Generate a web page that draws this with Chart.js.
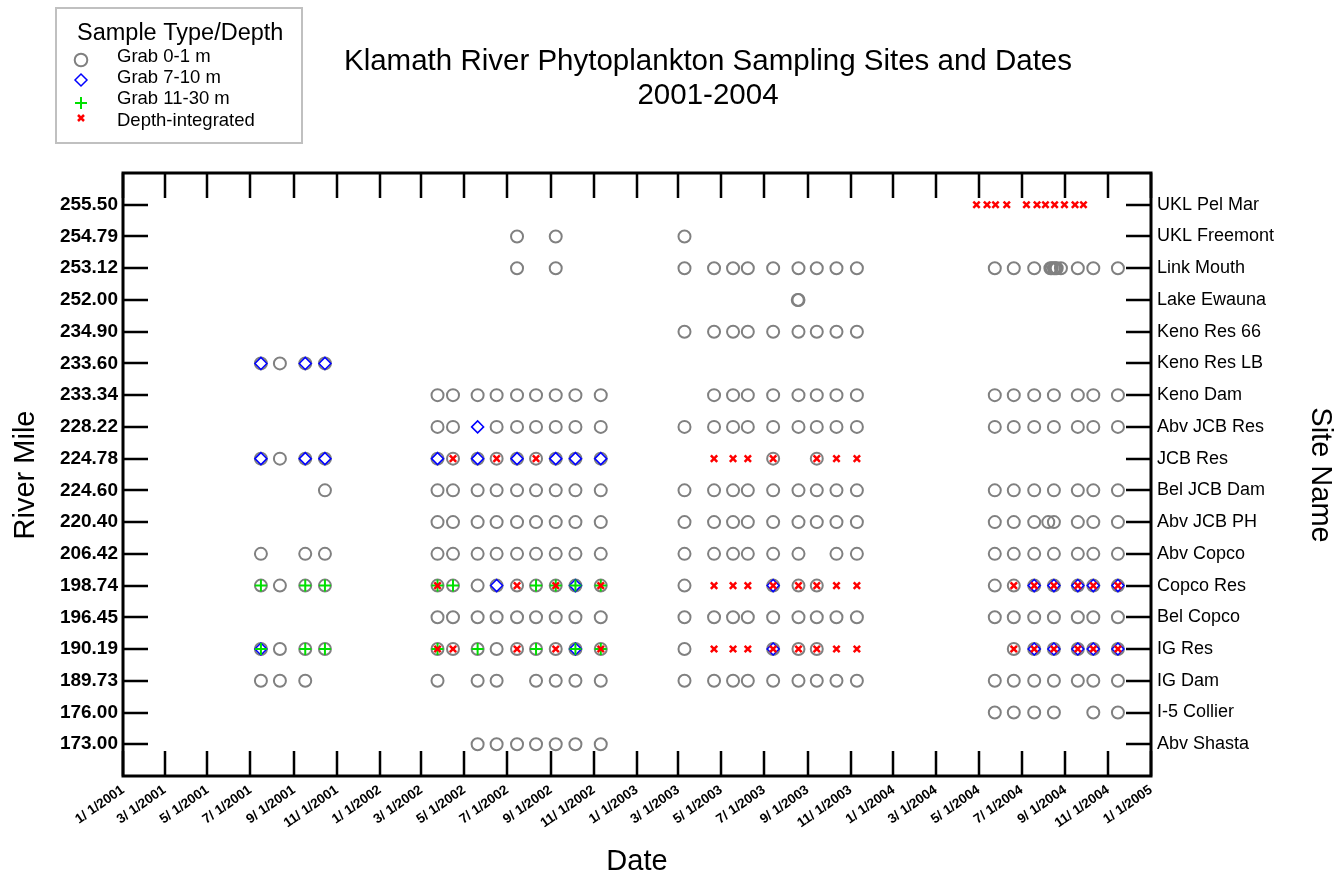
<!DOCTYPE html>
<html>
<head>
<meta charset="utf-8">
<script src="https://cdn.jsdelivr.net/npm/chart.js@4/dist/chart.umd.min.js"></script>
<style>
  html, body { margin: 0; padding: 0; background: #fff; }
  #wrap { width: 1344px; height: 877px; }
</style>
</head>
<body>
<div id="wrap"><canvas id="chart" width="1344" height="877"></canvas></div>
<script>
// Sites, top to bottom
const riverMiles = ['255.50', '254.79', '253.12', '252.00', '234.90', '233.60', '233.34', '228.22', '224.78',
    '224.60', '220.40', '206.42', '198.74', '196.45', '190.19', '189.73', '176.00', '173.00'];
const siteNames = ['UKL Pel Mar', 'UKL Freemont', 'Link Mouth', 'Lake Ewauna', 'Keno Res 66', 'Keno Res LB', 'Keno Dam',
    'Abv JCB Res', 'JCB Res', 'Bel JCB Dam', 'Abv JCB PH', 'Abv Copco', 'Copco Res', 'Bel Copco', 'IG Res', 'IG Dam',
    'I-5 Collier', 'Abv Shasta'];

// Date axis labels
const tickLabels = ['1/ 1/2001', '3/ 1/2001', '5/ 1/2001', '7/ 1/2001', '9/ 1/2001', '11/ 1/2001',
    '1/ 1/2002', '3/ 1/2002', '5/ 1/2002', '7/ 1/2002', '9/ 1/2002', '11/ 1/2002',
    '1/ 1/2003', '3/ 1/2003', '5/ 1/2003', '7/ 1/2003', '9/ 1/2003', '11/ 1/2003',
    '1/ 1/2004', '3/ 1/2004', '5/ 1/2004', '7/ 1/2004', '9/ 1/2004', '11/ 1/2004', '1/ 1/2005'];

// Grab 0-1 m (circles)
const grab0to1 = [
    ['UKL Freemont', ['2002-07-15', '2002-09-08', '2003-03-10']],
    ['Link Mouth', ['2002-07-15', '2002-09-08', '2003-03-10', '2003-04-21', '2003-05-18', '2003-06-08', '2003-07-14',
        '2003-08-19', '2003-09-14', '2003-10-12', '2003-11-10', '2004-05-24', '2004-06-20', '2004-07-19', '2004-08-11',
        '2004-08-13', '2004-08-16', '2004-08-18', '2004-08-20', '2004-08-26', '2004-09-19', '2004-10-11', '2004-11-15']],
    ['Lake Ewauna', ['2003-08-18', '2003-08-19']],
    ['Keno Res 66', ['2003-03-10', '2003-04-21', '2003-05-18', '2003-06-08', '2003-07-14', '2003-08-19', '2003-09-14',
        '2003-10-12', '2003-11-10']],
    ['Keno Res LB', ['2001-07-16', '2001-08-12', '2001-09-17', '2001-10-15']],
    ['Keno Dam', ['2002-03-24', '2002-04-15', '2002-05-20', '2002-06-16', '2002-07-15', '2002-08-11', '2002-09-08',
        '2002-10-06', '2002-11-11', '2003-04-21', '2003-05-18', '2003-06-08', '2003-07-14', '2003-08-19', '2003-09-14',
        '2003-10-12', '2003-11-10', '2004-05-24', '2004-06-20', '2004-07-19', '2004-08-16', '2004-09-19', '2004-10-11',
        '2004-11-15']],
    ['Abv JCB Res', ['2002-03-24', '2002-04-15', '2002-06-16', '2002-07-15', '2002-08-11', '2002-09-08', '2002-10-06',
        '2002-11-11', '2003-03-10', '2003-04-21', '2003-05-18', '2003-06-08', '2003-07-14', '2003-08-19', '2003-09-14',
        '2003-10-12', '2003-11-10', '2004-05-24', '2004-06-20', '2004-07-19', '2004-08-16', '2004-09-19', '2004-10-11',
        '2004-11-15']],
    ['JCB Res', ['2001-07-16', '2001-08-12', '2001-09-17', '2001-10-15', '2002-03-24', '2002-04-15', '2002-05-20',
        '2002-06-16', '2002-07-15', '2002-08-11', '2002-09-08', '2002-10-06', '2002-11-11', '2003-07-14', '2003-09-14']],
    ['Bel JCB Dam', ['2001-10-15', '2002-03-24', '2002-04-15', '2002-05-20', '2002-06-16', '2002-07-15', '2002-08-11',
        '2002-09-08', '2002-10-06', '2002-11-11', '2003-03-10', '2003-04-21', '2003-05-18', '2003-06-08', '2003-07-14',
        '2003-08-19', '2003-09-14', '2003-10-12', '2003-11-10', '2004-05-24', '2004-06-20', '2004-07-19', '2004-08-16',
        '2004-09-19', '2004-10-11', '2004-11-15']],
    ['Abv JCB PH', ['2002-03-24', '2002-04-15', '2002-05-20', '2002-06-16', '2002-07-15', '2002-08-11', '2002-09-08',
        '2002-10-06', '2002-11-11', '2003-03-10', '2003-04-21', '2003-05-18', '2003-06-08', '2003-07-14', '2003-08-19',
        '2003-09-14', '2003-10-12', '2003-11-10', '2004-05-24', '2004-06-20', '2004-07-19', '2004-08-08', '2004-08-16',
        '2004-09-19', '2004-10-11', '2004-11-15']],
    ['Abv Copco', ['2001-07-16', '2001-09-17', '2001-10-15', '2002-03-24', '2002-04-15', '2002-05-20', '2002-06-16',
        '2002-07-15', '2002-08-11', '2002-09-08', '2002-10-06', '2002-11-11', '2003-03-10', '2003-04-21', '2003-05-18',
        '2003-06-08', '2003-07-14', '2003-08-19', '2003-10-12', '2003-11-10', '2004-05-24', '2004-06-20', '2004-07-19',
        '2004-08-16', '2004-09-19', '2004-10-11', '2004-11-15']],
    ['Copco Res', ['2001-07-16', '2001-08-12', '2001-09-17', '2001-10-15', '2002-03-24', '2002-04-15', '2002-05-20',
        '2002-06-16', '2002-07-15', '2002-08-11', '2002-09-08', '2002-10-06', '2002-11-11', '2003-03-10', '2003-07-14',
        '2003-08-19', '2003-09-14', '2004-05-24', '2004-06-20', '2004-07-19', '2004-08-16', '2004-09-19', '2004-10-11',
        '2004-11-15']],
    ['Bel Copco', ['2002-03-24', '2002-04-15', '2002-05-20', '2002-06-16', '2002-07-15', '2002-08-11', '2002-09-08',
        '2002-10-06', '2002-11-11', '2003-03-10', '2003-04-21', '2003-05-18', '2003-06-08', '2003-07-14', '2003-08-19',
        '2003-09-14', '2003-10-12', '2003-11-10', '2004-05-24', '2004-06-20', '2004-07-19', '2004-08-16', '2004-09-19',
        '2004-10-11', '2004-11-15']],
    ['IG Res', ['2001-07-16', '2001-08-12', '2001-09-17', '2001-10-15', '2002-03-24', '2002-04-15', '2002-05-20',
        '2002-06-16', '2002-07-15', '2002-08-11', '2002-09-08', '2002-10-06', '2002-11-11', '2003-03-10', '2003-07-14',
        '2003-08-19', '2003-09-14', '2004-06-20', '2004-07-19', '2004-08-16', '2004-09-19', '2004-10-11', '2004-11-15']],
    ['IG Dam', ['2001-07-16', '2001-08-12', '2001-09-17', '2002-03-24', '2002-05-20', '2002-06-16', '2002-08-11',
        '2002-09-08', '2002-10-06', '2002-11-11', '2003-03-10', '2003-04-21', '2003-05-18', '2003-06-08', '2003-07-14',
        '2003-08-19', '2003-09-14', '2003-10-12', '2003-11-10', '2004-05-24', '2004-06-20', '2004-07-19', '2004-08-16',
        '2004-09-19', '2004-10-11', '2004-11-15']],
    ['I-5 Collier', ['2004-05-24', '2004-06-20', '2004-07-19', '2004-08-16', '2004-10-11', '2004-11-15']],
    ['Abv Shasta', ['2002-05-20', '2002-06-16', '2002-07-15', '2002-08-11', '2002-09-08', '2002-10-06', '2002-11-11']]
];

// Grab 7-10 m (diamonds)
const grab7to10 = [
    ['Keno Res LB', ['2001-07-16', '2001-09-17', '2001-10-15']],
    ['Abv JCB Res', ['2002-05-20']],
    ['JCB Res', ['2001-07-16', '2001-09-17', '2001-10-15', '2002-03-24', '2002-05-20', '2002-07-15', '2002-09-08',
        '2002-10-06', '2002-11-11']],
    ['Copco Res', ['2002-06-16', '2002-10-06', '2003-07-14', '2004-07-19', '2004-08-16', '2004-09-19', '2004-10-11',
        '2004-11-15']],
    ['IG Res', ['2001-07-16', '2002-10-06', '2003-07-14', '2004-07-19', '2004-08-16', '2004-09-19', '2004-10-11',
        '2004-11-15']]
];

// Grab 11-30 m (plus)
const grab11to30 = [
    ['Copco Res', ['2001-07-16', '2001-09-17', '2001-10-15', '2002-03-24', '2002-04-15', '2002-08-11', '2002-09-08',
        '2002-10-06', '2002-11-11']],
    ['IG Res', ['2001-07-16', '2001-09-17', '2001-10-15', '2002-03-24', '2002-05-20', '2002-08-11', '2002-10-06',
        '2002-11-11']]
];

// Depth-integrated (x)
const depthIntegrated = [
    ['UKL Pel Mar', ['2004-04-28', '2004-05-13', '2004-05-25', '2004-06-10', '2004-07-08', '2004-07-23', '2004-08-04',
        '2004-08-17', '2004-08-31', '2004-09-15', '2004-09-27']],
    ['JCB Res', ['2002-04-15', '2002-06-16', '2002-08-11', '2003-04-21', '2003-05-18', '2003-06-08', '2003-07-14',
        '2003-09-14', '2003-10-12', '2003-11-10']],
    ['Copco Res', ['2002-03-24', '2002-07-15', '2002-09-08', '2002-11-11', '2003-04-21', '2003-05-18', '2003-06-08',
        '2003-07-14', '2003-08-19', '2003-09-14', '2003-10-12', '2003-11-10', '2004-06-20', '2004-07-19', '2004-08-16',
        '2004-09-19', '2004-10-11', '2004-11-15']],
    ['IG Res', ['2002-03-24', '2002-04-15', '2002-07-15', '2002-09-08', '2002-11-11', '2003-04-21', '2003-05-18',
        '2003-06-08', '2003-07-14', '2003-08-19', '2003-09-14', '2003-10-12', '2003-11-10', '2004-06-20', '2004-07-19',
        '2004-08-16', '2004-09-19', '2004-10-11', '2004-11-15']]
];

const FONT = '"Liberation Sans", Arial, sans-serif';

function toMs(s) {
    const [y, m, d] = s.split('-').map(Number);
    return Date.UTC(y, m - 1, d);
}

function labelToMs(s) {
    const [m, d, y] = s.split('/').map(t => Number(t.trim()));
    return Date.UTC(y, m - 1, d);
}

function points(rows) {
    const out = [];
    rows.forEach(([site, dates]) => {
        const y = siteNames.indexOf(site);
        dates.forEach(d => out.push({ x: toMs(d), y: y }));
    });
    return out;
}

const tickValues = tickLabels.map(labelToMs);
const labelByValue = {};
tickLabels.forEach((l, i) => { labelByValue[tickValues[i]] = l; });

// Frame, inward ticks, titles and legend box
const decorPlugin = {
    id: 'decor',
    beforeDatasetsDraw(chart) {
        const { ctx, chartArea: a } = chart;
        const x = chart.scales.x;
        const y = chart.scales.y;
        ctx.save();
        ctx.strokeStyle = '#000';
        ctx.lineWidth = 2.5;
        ctx.beginPath();
        tickValues.forEach(v => {
            const px = Math.round(x.getPixelForValue(v));
            ctx.moveTo(px, a.top); ctx.lineTo(px, a.top + 25);
            ctx.moveTo(px, a.bottom); ctx.lineTo(px, a.bottom - 25);
        });
        siteNames.forEach((_, i) => {
            const py = Math.round(y.getPixelForValue(i));
            ctx.moveTo(a.left, py); ctx.lineTo(a.left + 25, py);
            ctx.moveTo(a.right, py); ctx.lineTo(a.right - 25, py);
        });
        ctx.stroke();
        ctx.lineWidth = 3;
        ctx.strokeRect(a.left, a.top, a.right - a.left, a.bottom - a.top);
        ctx.restore();
    },
    afterDraw(chart) {
        const ctx = chart.ctx;
        ctx.save();
        ctx.fillStyle = '#000';
        ctx.textAlign = 'center';
        ctx.textBaseline = 'middle';

        // Title
        ctx.font = '29.5px ' + FONT;
        ctx.fillText('Klamath River Phytoplankton Sampling Sites and Dates', 708, 62);
        ctx.fillText('2001-2004', 708, 96);

        // Axis titles
        ctx.font = '29px ' + FONT;
        ctx.fillText('Date', 637, 862);
        ctx.save();
        ctx.translate(26, 475);
        ctx.rotate(-Math.PI / 2);
        ctx.fillText('River Mile', 0, 0);
        ctx.restore();
        ctx.save();
        ctx.translate(1320, 475);
        ctx.rotate(Math.PI / 2);
        ctx.fillText('Site Name', 0, 0);
        ctx.restore();

        // Legend box
        ctx.strokeStyle = '#c0c0c0';
        ctx.lineWidth = 2;
        ctx.strokeRect(56, 8, 246, 135);
        ctx.font = '23.5px ' + FONT;
        ctx.textAlign = 'left';
        ctx.fillText('Sample Type/Depth', 77, 34);
        ctx.font = '18.5px ' + FONT;
        const items = ['Grab 0-1 m', 'Grab 7-10 m', 'Grab 11-30 m', 'Depth-integrated'];
        const textY = [57, 78, 99, 121];
        items.forEach((t, i) => ctx.fillText(t, 117, textY[i]));

        const cx = 81;
        ctx.lineWidth = 2;
        ctx.strokeStyle = '#808080';
        ctx.beginPath(); ctx.arc(cx, 60, 6.3, 0, Math.PI * 2); ctx.stroke();
        ctx.lineWidth = 1.5;
        ctx.strokeStyle = '#0000ff';
        ctx.beginPath();
        ctx.moveTo(cx - 6, 80); ctx.lineTo(cx, 74); ctx.lineTo(cx + 6, 80); ctx.lineTo(cx, 86); ctx.closePath();
        ctx.stroke();
        ctx.lineWidth = 2;
        ctx.strokeStyle = '#00e000';
        ctx.beginPath();
        ctx.moveTo(cx - 6, 103); ctx.lineTo(cx + 6, 103); ctx.moveTo(cx, 97); ctx.lineTo(cx, 109);
        ctx.stroke();
        ctx.lineWidth = 2.5;
        ctx.strokeStyle = '#ff0000';
        ctx.beginPath();
        ctx.moveTo(cx - 3, 115); ctx.lineTo(cx + 3, 121); ctx.moveTo(cx + 3, 115); ctx.lineTo(cx - 3, 121);
        ctx.stroke();
        ctx.restore();
    }
};

const rowTicks = scale => { scale.ticks = siteNames.map((_, i) => ({ value: i })); };

new Chart(document.getElementById('chart'), {
    type: 'scatter',
    data: {
        datasets: [
            {
                label: 'Grab 0-1 m',
                data: points(grab0to1),
                pointStyle: 'circle',
                pointRadius: 6,
                pointBorderWidth: 2,
                borderColor: '#808080',
                backgroundColor: 'rgba(0,0,0,0)',
                order: 4
            },
            {
                label: 'Grab 7-10 m',
                data: points(grab7to10),
                pointStyle: 'rectRot',
                pointRadius: 6,
                pointBorderWidth: 1.5,
                borderColor: '#0000ff',
                backgroundColor: 'rgba(0,0,0,0)',
                order: 3
            },
            {
                label: 'Grab 11-30 m',
                data: points(grab11to30),
                pointStyle: 'cross',
                pointRadius: 6,
                pointBorderWidth: 2,
                borderColor: '#00e000',
                backgroundColor: 'rgba(0,0,0,0)',
                order: 2
            },
            {
                label: 'Depth-integrated',
                data: points(depthIntegrated),
                pointStyle: 'crossRot',
                pointRadius: 4.5,
                pointBorderWidth: 2.5,
                borderColor: '#ff0000',
                backgroundColor: 'rgba(0,0,0,0)',
                order: 1
            }
        ]
    },
    options: {
        responsive: false,
        animation: false,
        events: [],
        layout: { padding: { top: 173, left: 0, right: 0, bottom: 0 } },
        plugins: {
            legend: { display: false },
            tooltip: { enabled: false },
            title: { display: false }
        },
        scales: {
            x: {
                type: 'linear',
                position: 'bottom',
                min: toMs('2001-01-01'),
                max: toMs('2005-01-01'),
                grid: { display: false, drawTicks: false },
                border: { display: false },
                afterBuildTicks: scale => { scale.ticks = tickValues.map(v => ({ value: v })); },
                afterFit: scale => { scale.height = 101; },
                ticks: {
                    autoSkip: false,
                    minRotation: 35,
                    maxRotation: 35,
                    padding: 6,
                    color: '#000',
                    font: { family: FONT, size: 13.5, weight: 'bold' },
                    callback: v => labelByValue[v] || ''
                }
            },
            y: {
                type: 'linear',
                position: 'left',
                min: -1,
                max: 18,
                reverse: true,
                grid: { display: false, drawTicks: false },
                border: { display: false },
                afterBuildTicks: rowTicks,
                afterFit: scale => { scale.width = 123; },
                ticks: {
                    padding: 5,
                    color: '#000',
                    font: { family: FONT, size: 19, weight: 'bold' },
                    callback: v => riverMiles[v] || ''
                }
            },
            y2: {
                type: 'linear',
                position: 'right',
                min: -1,
                max: 18,
                reverse: true,
                grid: { display: false, drawTicks: false },
                border: { display: false },
                afterBuildTicks: rowTicks,
                afterFit: scale => { scale.width = 193; },
                ticks: {
                    padding: 6,
                    color: '#000',
                    font: { family: FONT, size: 18 },
                    callback: v => siteNames[v] || ''
                }
            }
        }
    },
    plugins: [decorPlugin]
});
</script>
</body>
</html>
